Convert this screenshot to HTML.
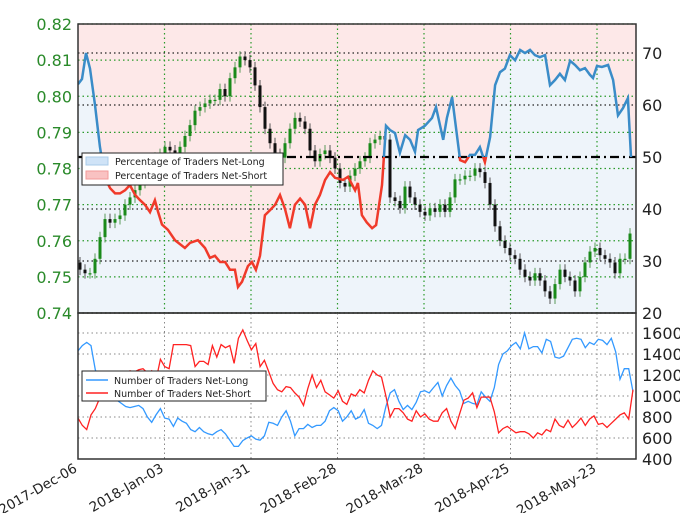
<!DOCTYPE html>
<html><head><meta charset="utf-8"><style>
html,body{margin:0;padding:0;background:#fff;}
svg{display:block;font-family:"DejaVu Sans","Liberation Sans",sans-serif;}
</style></head><body>
<svg id="chart" width="680" height="513" viewBox="0 0 680 513" xmlns="http://www.w3.org/2000/svg">
<defs>
<clipPath id="topClip"><rect x="78" y="24" width="558" height="289"/></clipPath>
<clipPath id="aboveMid"><rect x="78" y="0" width="558" height="157"/></clipPath>
<clipPath id="belowMid"><rect x="78" y="157" width="558" height="200"/></clipPath>
<clipPath id="botClip"><rect x="78" y="313" width="558" height="146"/></clipPath>
</defs>
<g id="topPanel"></g>
<g id="botPanel"></g>
</svg>
<script>
// ---- data ----
const dateLabels = ["2017-Dec-06","2018-Jan-03","2018-Jan-31","2018-Feb-28","2018-Mar-28","2018-Apr-25","2018-May-23"];
const dateDays = [0,28,56,84,112,140,168];
const priceTicks = [0.74,0.75,0.76,0.77,0.78,0.79,0.80,0.81,0.82];
const pctTicks = [20,30,40,50,60,70];
const countTicks = [400,600,800,1000,1200,1400,1600];
const closes = [0.752,0.751,0.751,0.755,0.761,0.766,0.765,0.766,0.767,0.770,0.772,0.774,0.776,0.778,0.780,0.783,0.784,0.786,0.785,0.784,0.786,0.789,0.792,0.796,0.797,0.798,0.799,0.799,0.802,0.800,0.805,0.808,0.811,0.810,0.808,0.803,0.797,0.791,0.787,0.784,0.783,0.787,0.791,0.794,0.793,0.791,0.785,0.782,0.784,0.785,0.783,0.780,0.776,0.775,0.778,0.780,0.782,0.783,0.787,0.788,0.789,0.788,0.772,0.771,0.769,0.775,0.772,0.770,0.768,0.767,0.769,0.768,0.770,0.768,0.772,0.777,0.777,0.778,0.778,0.780,0.779,0.776,0.770,0.764,0.760,0.758,0.756,0.755,0.752,0.750,0.749,0.751,0.749,0.746,0.744,0.748,0.752,0.750,0.749,0.746,0.750,0.754,0.757,0.758,0.756,0.755,0.754,0.751,0.755,0.755,0.762];
const pctDays = [0,1.3,2.6,3.9,5.5,7.1,8.7,10.4,12,13.6,15.2,16.8,18.5,20.1,21.7,23.3,24.9,25.9,27.2,29.1,31.4,34.6,36.3,38.8,41.1,42.7,44.3,46,47.6,49.2,50.8,51.8,53.1,55,56.3,57.6,58.9,60.5,62.2,63.8,65.4,67,68.6,70.2,71.9,73.5,75.1,76.7,78.3,80,81.6,83.2,85.8,87.4,89.7,90.6,91.9,93.5,95.2,96.5,98.4,99.7,101,102.6,104.2,105.9,107.5,109.1,110.1,112.3,114.6,115.9,118.2,119.4,121.1,123.7,125.3,126.9,128.5,130.1,131.7,133.4,135,136.6,138.2,139.8,141.5,143.1,144.7,146.3,147.9,149.5,151.2,152.8,154.4,156,157.6,159.3,160.9,162.5,164.1,165.7,166.7,168,169.6,171.6,173.2,174.8,176.4,178,179];
const pctLong = [64,65,70,67,60,52,46,44,43,43,43.6,44.6,42.7,41.7,40.8,39.4,41.7,39.5,37,36,34,32.5,33.5,34,32.5,30.6,31,29.8,29.8,28.3,28.3,25,26,29,29.8,28.3,31,38.8,39.8,40.8,42.7,40,36.3,40.8,42,40.8,36.3,40.8,42.7,45.6,47.1,46,45.6,46.2,43.6,45,38.8,37.4,36.3,36.9,44.6,56,55.2,54.6,50.8,54.2,53.3,51,55.2,56,57.5,59.6,53.3,57.5,61.5,49.4,49,50.4,50.4,51.9,49,53.8,63.8,66.3,67,69.6,68.6,70.6,70,70.6,69.6,69.2,69.6,63.8,64.8,66,64.8,68.5,67.7,66.7,67.1,65.8,65.2,67.5,67.3,67.7,64.8,58,59.4,61.3,50];
const longCounts = [1430,1480,1510,1480,1250,1150,1100,1050,1000,960,930,900,890,900,910,880,800,750,820,880,790,780,710,790,760,740,680,660,700,660,640,630,660,680,640,580,520,520,575,600,620,590,580,620,750,740,720,800,860,760,620,690,690,730,700,720,720,760,860,890,860,760,800,860,780,800,870,740,720,690,720,900,1030,1060,950,870,910,870,940,1040,1050,1030,1080,1130,1000,1100,1170,1100,1050,930,950,930,920,1040,990,950,1080,1300,1400,1430,1480,1510,1450,1600,1450,1470,1470,1410,1540,1520,1370,1360,1380,1460,1540,1550,1540,1460,1510,1490,1540,1530,1490,1550,1420,1160,1260,1260,1040];
const shortCounts = [790,720,680,820,880,980,1060,1100,1150,1170,1200,1220,1240,1230,1250,1260,1220,1240,1150,1350,1280,1260,1490,1490,1490,1490,1480,1280,1330,1330,1300,1480,1370,1490,1460,1480,1310,1550,1630,1530,1440,1500,1280,1340,1230,1120,1060,1040,1090,1080,1030,990,910,1070,1200,1080,1150,1040,1010,980,1050,950,920,1020,1000,1060,1030,1150,1240,1200,1180,1000,800,880,880,840,780,760,860,800,830,780,760,760,840,880,760,690,830,960,980,1030,890,990,990,990,850,650,690,710,680,650,660,660,640,600,650,630,680,660,780,720,700,770,700,740,790,720,780,810,730,740,700,740,780,820,840,780,1060];

// ---- scales ----
const X0=78, X1=636, TOP=24, MID=313, BOT=459;
const dayToX = d => X0 + d*(86.5/28);
const priceY = p => MID - (p-0.74)*3612.5;
const pctY = v => MID - (v-20)*5.2;
const countY = v => BOT - (v-400)*0.105;
const candleX = i => 80 + i*(550/(closes.length-1));
const countX = (i,n) => X0 + i*(555/(n-1));

const NS="http://www.w3.org/2000/svg";
const topG=document.getElementById('topPanel'), botG=document.getElementById('botPanel');
function mk(tag, parent, attrs){const e=document.createElementNS(NS,tag);for(const k in attrs)e.setAttribute(k,attrs[k]);parent.appendChild(e);return e;}

// ---- top panel backgrounds ----
const nPct = Math.min(pctDays.length, pctLong.length);
const pctPts = [];
for(let i=0;i<nPct;i++) pctPts.push([dayToX(pctDays[i]),pctY(pctLong[i])]);
const lineStr = pctPts.map(p=>p[0].toFixed(1)+','+p[1].toFixed(1)).join(' ');
const first=pctPts[0], last=pctPts[pctPts.length-1];
let bg = mk('polygon', topG, {points: X0+','+TOP+' '+X0+','+first[1]+' '+lineStr+' '+X1+','+last[1]+' '+X1+','+TOP, fill:'#fde8e8', 'clip-path':'url(#topClip)'});


bg = mk('polygon', topG, {points: X0+','+MID+' '+X0+','+first[1]+' '+lineStr+' '+X1+','+last[1]+' '+X1+','+MID, fill:'#eef4fa', 'clip-path':'url(#topClip)'});



// grids
priceTicks.forEach(t=>{
  const l=mk('line',topG,{x1:X0,x2:X1,y1:priceY(t),y2:priceY(t),stroke:'#2a9a2a','stroke-width':1.2,'stroke-dasharray':'1.5,3'});
  
  
  const tx=mk('text',topG,{x:72,y:priceY(t)+6,'text-anchor':'end','font-size':16,fill:'#2a8a2a'});
  tx.textContent=t.toFixed(2);
  
  
});
pctTicks.forEach(t=>{
  if(t!==50){const l=mk('line',topG,{x1:X0,x2:X1,y1:pctY(t),y2:pctY(t),stroke:'#222','stroke-width':1.2,'stroke-dasharray':'1.5,3'});
  
  }
  const tx=mk('text',topG,{x:642,y:pctY(t)+6,'font-size':16,fill:'#222'});
  tx.textContent=t;
  
  
});
dateDays.forEach(d=>{
  if(d===0)return;
  const l=mk('line',topG,{x1:dayToX(d),x2:dayToX(d),y1:TOP,y2:MID,stroke:'#2a9a2a','stroke-width':1.2,'stroke-dasharray':'1.5,3'});
  
  
});

// candles
closes.forEach((c,i)=>{
  const o = i>0?closes[i-1]:c+0.002;
  const x=candleX(i), up=c>=o, col=up?'#1a8a1a':'#111';
  const hi=Math.max(o,c)+0.0015, lo=Math.min(o,c)-0.0015;
  const w=mk('line',topG,{x1:x,x2:x,y1:priceY(hi),y2:priceY(lo),stroke:up?'#5a9a5a':'#555','stroke-width':1});
  
  
  const yT=priceY(Math.max(o,c)), yB=priceY(Math.min(o,c));
  const r=mk('rect',topG,{x:x-1.5,y:yT,width:3,height:Math.max(1.2,yB-yT),fill:col});
  
  
});

// 50 line
let ml=mk('line',topG,{x1:X0,x2:X1,y1:pctY(50),y2:pctY(50),stroke:'#000','stroke-width':2.2,'stroke-dasharray':'9,4,2,4'});



// sentiment line
let pl=mk('polyline',topG,{points:lineStr,fill:'none',stroke:'#3a8cc8','stroke-width':2.5,'clip-path':'url(#aboveMid)'});


pl=mk('polyline',topG,{points:lineStr,fill:'none',stroke:'#f03a2a','stroke-width':2.5,'clip-path':'url(#belowMid)'});



// top frame
let fr=mk('rect',topG,{x:X0,y:TOP,width:X1-X0,height:MID-TOP,fill:'none',stroke:'#333','stroke-width':1.5});



// top legend
const lg=mk('g',topG,{});


mk('rect',lg,{x:82,y:153,width:201,height:32,fill:'#fff',stroke:'#222','stroke-width':1});
mk('rect',lg,{x:86,y:157,width:22,height:8,fill:'#cfe3f7',stroke:'#a8cbea'});
mk('rect',lg,{x:86,y:171,width:22,height:8,fill:'#f9c2c2',stroke:'#f29a9a'});
let lt=mk('text',lg,{x:115,y:165,'font-size':9.5,fill:'#222'});lt.textContent='Percentage of Traders Net-Long';


lt=mk('text',lg,{x:115,y:179,'font-size':9.5,fill:'#222'});lt.textContent='Percentage of Traders Net-Short';



// ---- bottom panel ----
countTicks.forEach(t=>{
  if(t!==400){const l=mk('line',botG,{x1:X0,x2:X1,y1:countY(t),y2:countY(t),stroke:'#888','stroke-width':1,'stroke-dasharray':'1.5,3'});
  
  }
  const tx=mk('text',botG,{x:642,y:countY(t)+6,'font-size':16,fill:'#222'});
  tx.textContent=t;
  
  
});
dateDays.forEach((d,i)=>{
  const x=dayToX(d);
  if(d!==0){const l=mk('line',botG,{x1:x,x2:x,y1:MID,y2:BOT,stroke:'#888','stroke-width':1,'stroke-dasharray':'1.5,3'});
  
  }
  const tx=mk('text',botG,{x:x,y:BOT+12,'text-anchor':'end','font-size':13.5,fill:'#222',transform:'rotate(-30 '+x+' '+(BOT+12)+')'});
  tx.textContent=dateLabels[i];
  
  
});
function series(arr,col,name){
  const pts=arr.map((v,i)=>countX(i,arr.length).toFixed(1)+','+countY(v).toFixed(1)).join(' ');
  const p=mk('polyline',botG,{points:pts,fill:'none',stroke:col,'stroke-width':1.3,'clip-path':'url(#botClip)'});
  
  
}
series(longCounts,'#3399ff','net-long-count-line');
series(shortCounts,'#ff2222','net-short-count-line');
fr=mk('rect',botG,{x:X0,y:MID,width:X1-X0,height:BOT-MID,fill:'none',stroke:'#333','stroke-width':1.5});


const lg2=mk('g',botG,{});


mk('rect',lg2,{x:82,y:371,width:184,height:30,fill:'#fff',stroke:'#222','stroke-width':1});
mk('line',lg2,{x1:86,x2:108,y1:380,y2:380,stroke:'#3399ff','stroke-width':1.5});
mk('line',lg2,{x1:86,x2:108,y1:393,y2:393,stroke:'#ff2222','stroke-width':1.5});
lt=mk('text',lg2,{x:114,y:384,'font-size':9.5,fill:'#222'});lt.textContent='Number of Traders Net-Long';


lt=mk('text',lg2,{x:114,y:397,'font-size':9.5,fill:'#222'});lt.textContent='Number of Traders Net-Short';


</script>
</body></html>
